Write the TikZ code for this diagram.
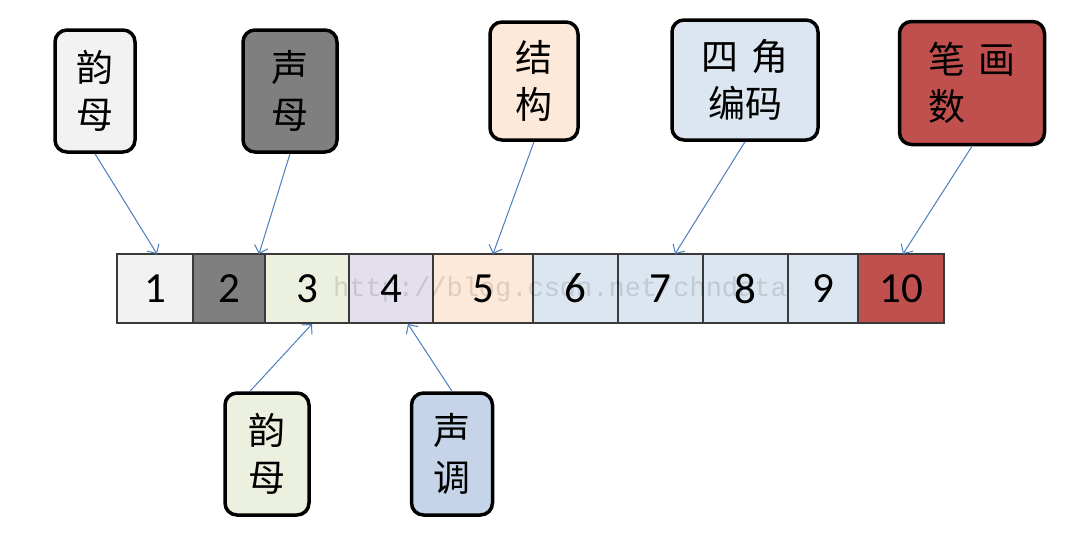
\documentclass[tikz,border=0pt]{standalone}
\usepackage{fontspec}
\newfontfamily\cjk{Noto Sans CJK SC}
\newfontfamily\numfont{Carlito}
\newfontfamily\wmfont{Liberation Mono}
\usetikzlibrary{arrows.meta}
\definecolor{c1}{HTML}{F2F2F2}
\definecolor{c2}{HTML}{7F7F7F}
\definecolor{c3}{HTML}{EBF1DE}
\definecolor{c4}{HTML}{E4DFEC}
\definecolor{c5}{HTML}{FDE9D9}
\definecolor{c6}{HTML}{DCE6F1}
\definecolor{c10}{HTML}{C0504D}
\definecolor{lbl}{HTML}{C6D4EA}
\definecolor{arrowc}{HTML}{4A7EBB}
\definecolor{cellline}{HTML}{3A3A3A}
\tikzset{
  tag/.style={draw=black, line width=3.5pt, rounded corners=12pt, inner sep=0pt,
    align=center, font=\cjk\fontsize{37}{47}\selectfont},
  cell/.style={draw=cellline, line width=1.5pt, minimum height=69pt, inner sep=0pt,
    font=\numfont\fontsize{43}{43}\selectfont},
  arr/.style={draw=arrowc, line width=1pt, -{Straight Barb[length=7pt,width=14pt]}}
}
\begin{document}
\begin{tikzpicture}[x=1pt,y=-1pt]
\useasboundingbox[fill=white] (0,0) rectangle (1080,542);
% cells
\node[cell, fill=c1, minimum width=76pt] (n1) at (155,288.5) {1};
\node[cell, fill=c2, minimum width=72pt] (n2) at (229,288.5) {2};
\node[cell, fill=c3, minimum width=84pt] (n3) at (307,288.5) {3};
\node[cell, fill=c4, minimum width=84pt] (n4) at (391,288.5) {4};
\node[cell, fill=c5, minimum width=100pt] (n5) at (483,288.5) {5};
\node[cell, fill=c6, minimum width=85pt] (n6) at (575.5,288.5) {6};
\node[cell, fill=c6, minimum width=85pt] (n7) at (660.5,288.5) {7};
\node[cell, fill=c6, minimum width=85pt] (n8) at (745.5,288.5) {8};
\node[cell, fill=c6, minimum width=70pt] (n9) at (823,288.5) {9};
\node[cell, fill=c10, minimum width=86pt] (n10) at (901,288.5) {10};
% watermark
\node[text=black, opacity=0.12, font=\wmfont\fontsize{27}{27}\selectfont, inner sep=0pt] (wm) at (560,290) {http://blog.csdn.net/chndata};
% top tags
\node[tag, fill=c1, minimum width=80pt, minimum height=122pt] (t1) at (95,91) {韵\\母};
\node[tag, fill=c2, minimum width=94pt, minimum height=122pt] (t2) at (290,91) {声\\母};
\node[tag, fill=c5, minimum width=88pt, minimum height=118pt] (t5) at (534,81) {结\\构};
\node[tag, fill=c6, minimum width=146pt, minimum height=120pt] (t7) at (745,80) {四\,\,角\\编码};
\node[tag, fill=c10, minimum width=145pt, minimum height=123pt, align=left] (t10) at (972,83) {笔\,\,画\\数\phantom{\,\,画}};
% bottom tags
\node[tag, fill=c3, minimum width=84pt, minimum height=122pt] (b3) at (267,454) {韵\\母};
\node[tag, fill=lbl, minimum width=81pt, minimum height=122pt] (b4) at (452,454) {声\\调};
% arrow targets
\coordinate (p1) at (157,254);
\coordinate (p2) at (259,254);
\coordinate (p5) at (493,254);
\coordinate (p7) at (675,254);
\coordinate (p10) at (903,254);
\coordinate (p3) at (312,324);
\coordinate (p4) at (408,324);
% arrows
\draw[arr] (t1.south) -- (p1);
\draw[arr] (t2.south) -- (p2);
\draw[arr] (t5.south) -- (p5);
\draw[arr] (t7.south) -- (p7);
\draw[arr] (t10.south) -- (p10);
\draw[arr] (b3.north -| 250,0) -- (p3);
\draw[arr] (b4.north) -- (p4);
\end{tikzpicture}
\end{document}
